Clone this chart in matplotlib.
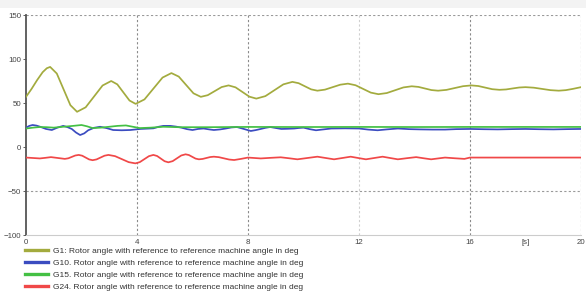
import matplotlib.pyplot as plt
from matplotlib.patches import Rectangle

plt.switch_backend("Agg")

# time [s] and rotor angle [deg]
g1_t = [0, 0.2, 0.4, 0.6, 0.75, 0.87, 1.11, 1.355, 1.6, 1.84, 2.15, 2.455, 2.76, 3.07,
        3.29, 3.51, 3.73, 3.95, 4.27, 4.595, 4.92, 5.24, 5.505, 5.77, 6.035, 6.3,
        6.55, 6.8, 7.05, 7.3, 7.55, 7.8, 8.05, 8.3, 8.625, 8.95, 9.275, 9.6,
        9.825, 10.05, 10.275, 10.5, 10.775, 11.05, 11.325, 11.6, 11.875, 12.15, 12.425, 12.7,
        13.0, 13.3, 13.6, 13.9, 14.14, 14.375, 14.61, 14.85, 15.15, 15.45, 15.75, 16.05,
        16.3, 16.55, 16.8, 17.06, 17.3, 17.53, 17.77, 18.0, 18.3, 18.6, 18.9, 19.2,
        19.45, 19.7, 20.0]
g1_v = [57, 66, 76, 85, 89.5, 91, 83.5, 65.5, 47.5, 40, 45.1, 57.5, 69.9, 75,
        71.2, 62, 52.8, 49, 54.1, 66.5, 78.9, 84, 80, 70.5, 61, 57,
        58.9, 63.5, 68.1, 70, 67.8, 62.5, 57.2, 55, 57.8, 64.5, 71.2, 74,
        72.5, 69, 65.5, 64, 65.2, 68, 70.8, 72, 70.2, 66, 61.8, 60,
        61.3, 64.5, 67.7, 69, 68.3, 66.5, 64.7, 64, 64.9, 67, 69.1, 70,
        69.3, 67.5, 65.7, 65, 65.4, 66.5, 67.6, 68, 67.4, 66, 64.6, 64,
        64.6, 66, 68]

g10_t = [0, 0.12, 0.24, 0.38, 0.51, 0.72, 0.93, 1.13, 1.34, 1.5, 1.65, 1.8, 1.95, 2.1,
         2.24, 2.45, 2.67, 2.9, 3.14, 3.45, 3.76, 4.12, 4.59, 4.78, 4.95, 5.2, 5.4, 5.6,
         5.8, 6.0, 6.2, 6.4, 6.6, 6.77, 7.0, 7.2, 7.4, 7.6, 7.85, 8.1, 8.28, 8.46, 8.63,
         8.8, 9.0, 9.2, 9.43, 9.66, 9.83, 10.0, 10.22, 10.45, 10.72, 11.0, 11.5, 12.0,
         12.33, 12.67, 13.0, 13.4, 13.8, 14.2, 14.65, 15.1, 15.5, 16, 16.5, 17, 17.5,
         18, 18.5, 19, 19.5, 20]
g10_v = [22, 24, 25, 24.3, 23, 20.5, 19.3, 22, 24, 22.5, 20.5, 16.5, 13.6, 15.5,
         19, 21.8, 23, 21.5, 19.3, 19, 19.3, 20.5, 21.2, 23, 24, 24, 23.2, 22,
         20.3, 19.3, 20.5, 21, 20, 19.3, 20, 21, 22.2, 22.7, 20.5, 18.2, 19.2, 20.5, 21.8,
         22.7, 21.6, 20.5, 20.7, 21, 21.6, 22, 20.3, 19, 20, 21, 21.2, 21,
         19.8, 19, 20, 21, 20.3, 20, 19.8, 19.8, 20.3, 20.5, 20.2, 20, 20.3,
         20.5, 20.2, 20, 20.3, 20.5]

g15_t = [0, 0.25, 0.5, 0.75, 1.0, 1.34, 1.7, 2.0, 2.2, 2.4, 2.7, 3.0, 3.3, 3.6, 3.85,
         4.1, 4.5, 4.95, 5.5, 6.5, 8, 10, 12, 14, 16, 18, 20]
g15_v = [21, 22, 22.7, 22.5, 22, 23, 24, 25, 23.5, 21.5, 22, 23, 24, 24.5, 23,
         21.5, 22, 23, 22.5, 22.5, 22.8, 22.7, 22.8, 22.7, 22.8, 22.8, 22.8]

g24_t = [0, 0.25, 0.5, 0.7, 0.9, 1.15, 1.4, 1.525, 1.65, 1.775, 1.9, 2.025, 2.15, 2.275,
         2.4, 2.54, 2.685, 2.83, 2.97, 3.21, 3.455, 3.70, 3.94, 4.10, 4.265, 4.43, 4.59,
         4.725, 4.86, 4.995, 5.13, 5.285, 5.44, 5.595, 5.75, 5.87, 5.99, 6.11, 6.23,
         6.365, 6.5, 6.635, 6.77, 6.95, 7.135, 7.32, 7.5, 7.75, 8.0, 8.23, 8.46, 8.82,
         9.18, 9.48, 9.78, 10.14, 10.5, 10.8, 11.1, 11.4, 11.7, 11.97, 12.25, 12.55,
         12.85, 13.12, 13.4, 13.73, 14.06, 14.33, 14.6, 14.85, 15.1, 15.45, 15.8, 16.0, 20]
g24_v = [-12, -12.5, -13, -12.3, -11.5, -12.5, -13.5, -12.84, -11.25, -9.66, -9, -9.88, -12, -14.12,
         -15, -14.12, -12, -9.88, -9, -10.4, -13.8, -17.2, -18.6, -17.2, -13.8, -10.4, -9,
         -10.23, -13.2, -16.17, -17.4, -16.07, -12.85, -9.63, -8.3, -9.13, -11.15, -13.17, -14,
         -13.56, -12.5, -11.44, -11, -11.56, -12.9, -14.24, -14.8, -13.5, -12, -12.5, -13, -12.3,
         -11.7, -12.8, -14, -12.5, -11, -12.5, -14, -12.5, -11, -12.5, -14, -12.5,
         -11, -12.5, -14, -12.7, -11.5, -12.8, -14, -13, -12, -12.8, -13.5, -12, -12]

labels = [
    "G1: Rotor angle with reference to reference machine angle in deg",
    "G10. Rotor angle with reference to reference machine angle in deg",
    "G15. Rotor angle with reference to reference machine angle in deg",
    "G24. Rotor angle with reference to reference machine angle in deg",
]
colors = ["#a3ab3e", "#3b4cc0", "#44c044", "#f04848"]

x_ticks = [0, 4, 8, 12, 16, 18, 20]
x_ticklabels = ["0", "4", "8", "12", "16", "[s]", "20"]
y_ticks = [-100, -50, 0, 50, 100, 150]

plt.rcParams["font.family"] = ["Liberation Sans", "DejaVu Sans"]

fig = plt.figure(figsize=(5.86, 2.94), dpi=100)
fig.patches.append(Rectangle((0, 1 - 8 / 294), 1, 8 / 294, transform=fig.transFigure,
                             facecolor="#f3f3f3", edgecolor="none", zorder=0))
ax = fig.add_axes([26 / 586, 1 - 235 / 294, 555 / 586, 220 / 294])

series = [(g1_t, g1_v), (g10_t, g10_v), (g15_t, g15_v), (g24_t, g24_v)]
for (t, v), c, lab in zip(series, colors, labels):
    ax.plot(t, v, color=c, lw=1.25, label=lab, zorder=3)

ax.set_xlim(0, 20)
ax.set_ylim(-100, 150)

# dashed grid like the source tool
for xg in [4, 8, 16, 20]:
    ax.axvline(xg, color="#8a8a8a", lw=0.8, ls=(0, (2, 2)), zorder=1)
ax.axvline(12, color="#d0d0d0", lw=0.8, ls=(0, (2, 2)), zorder=1)
for yg in [150, -50]:
    ax.axhline(yg, color="#9a9a9a", lw=0.8, ls=(0, (2, 2)), zorder=1)

for side in ["top", "right"]:
    ax.spines[side].set_visible(False)
ax.spines["left"].set_color("#555555")
ax.spines["left"].set_linewidth(1.3)
ax.spines["bottom"].set_color("#cccccc")
ax.spines["bottom"].set_linewidth(0.8)

ax.set_xticks(x_ticks)
ax.set_xticklabels(x_ticklabels)
ax.set_yticks(y_ticks)
ax.tick_params(axis="both", labelsize=5.7, colors="#444444", length=2, width=0.6, pad=1.5)
ax.tick_params(axis="x", length=0, pad=3)

leg = ax.legend(loc="upper left", bbox_to_anchor=(25 / 586, 1 - 247 / 294),
                bbox_transform=fig.transFigure, frameon=False, fontsize=6.0,
                handlelength=2.75, handletextpad=0.6, labelspacing=0.52,
                borderpad=0, borderaxespad=0)
for h in leg.legend_handles:
    h.set_linewidth(2.4)
for txt in leg.get_texts():
    txt.set_color("#333333")

fig.savefig("out.png", dpi=100)
